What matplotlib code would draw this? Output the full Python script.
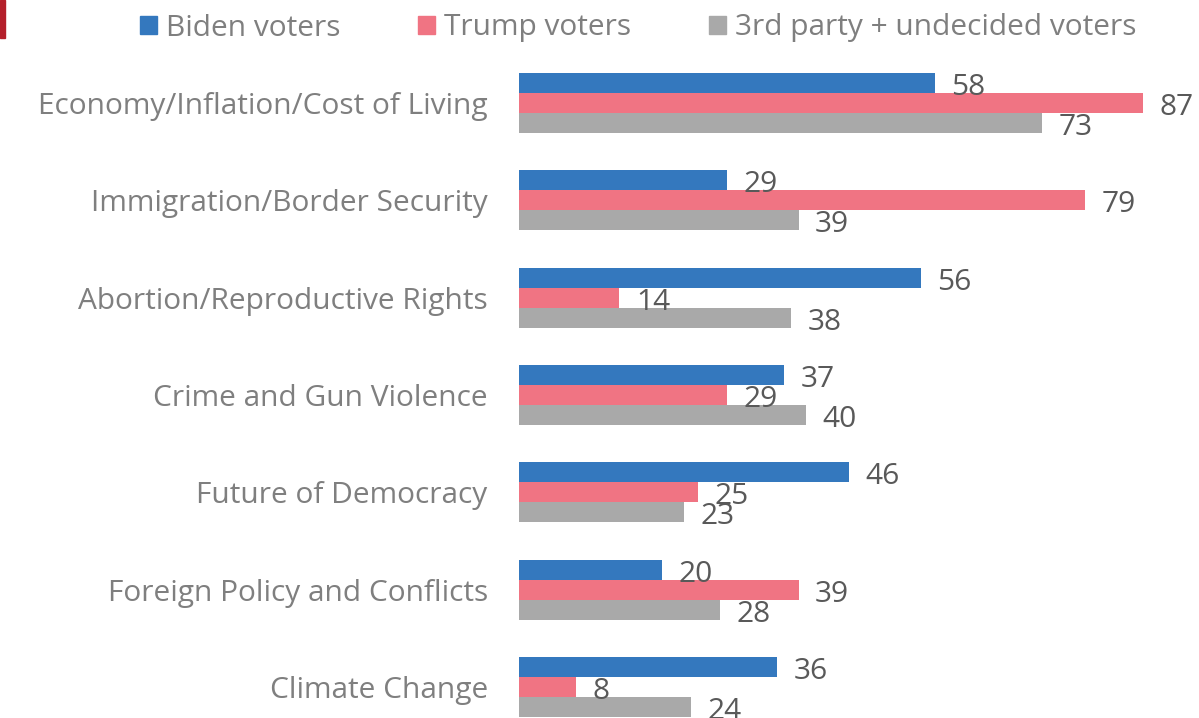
import numpy as np
import matplotlib.pyplot as plt
from matplotlib.patches import Patch, Rectangle

# Данные
issues = ['Economy/Inflation/Cost of Living', 'Immigration/Border Security',
          'Abortion/Reproductive Rights', 'Crime and Gun Violence',
          'Future of Democracy', 'Foreign Policy and Conflicts', 'Climate Change']
biden = [58, 29, 56, 37, 46, 20, 36]
trump = [87, 79, 14, 29, 25, 39, 8]
other = [73, 39, 38, 40, 23, 28, 24]
series_names = ['Biden voters', 'Trump voters', '3rd party + undecided voters']
colors = ['#3478BE', '#F07483', '#A9A9A9']

plt.rcParams['font.family'] = ['Open Sans', 'DejaVu Sans']
fs = 21.5

W, H = 1199, 718
fig = plt.figure(figsize=(W / 100, H / 100), dpi=100)
# оси: от x=519 до 1199 px, от y=60 до 718 px
ax = fig.add_axes([519 / W, 0, 1 - 519 / W, (718 - 60) / H])

y = np.arange(len(issues))
bh = 0.2055
for k, (vals, c) in enumerate(zip([biden, trump, other], colors)):
    pos = y + (k - 1) * bh
    ax.barh(pos, vals, height=bh, color=c)
    for p, v in zip(pos, vals):
        ax.text(v + 2.3, p + 0.045, str(v), va='center', ha='left',
                fontsize=fs, color='#595959')

ax.set_xlim(0, 680 / 7.17)
ax.set_ylim(6.319, -0.442)
ax.set_yticks(y)
ax.set_yticklabels(issues, fontsize=fs, color='#7F7F7F')
ax.tick_params(axis='y', length=0, pad=22.5)
ax.set_xticks([])
for s in ax.spines.values():
    s.set_visible(False)

handles = [Patch(color=c, label=n) for c, n in zip(colors, series_names)]
fig.legend(handles=handles, loc='center', bbox_to_anchor=(638 / W, 1 - 28 / H),
           ncol=3, frameon=False, fontsize=fs, labelcolor='#7F7F7F',
           handlelength=0.57, handleheight=0.57, handletextpad=0.3,
           columnspacing=2.6)

# красная метка слева сверху
fig.add_artist(Rectangle((0, 1 - 38 / H), 5 / W, 38 / H, transform=fig.transFigure,
                         color='#B41F2A'))

fig.savefig('out.png', dpi=100)
